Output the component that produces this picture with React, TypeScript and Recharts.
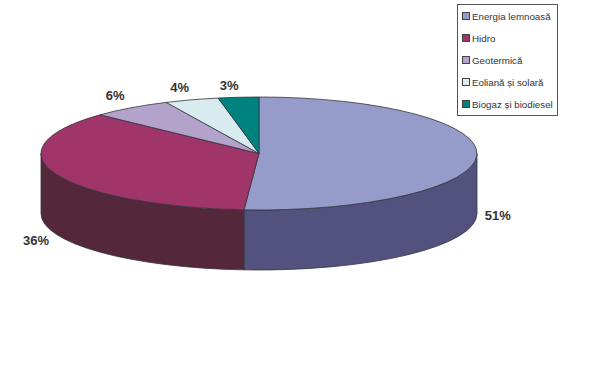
import React from 'react';
import { PieChart, Pie, Legend, Cell } from 'recharts';

const categories = ['Energia lemnoasă', 'Hidro', 'Geotermică', 'Eoliană și solară', 'Biogaz și biodiesel'];
const shares = [51.1, 35.9, 6, 4, 3];
const topColors = ['#959CC9', '#9F3568', '#B3A2C9', '#D8EBEE', '#00827F'];
const wallColors = ['#53527F', '#55273B', '#6B5C80', '#82979A', '#004F4D'];

const tableData = categories.map((name, i) => ({ name, value: shares[i] }));

// pie tilt: the circle from the library is flattened into an ellipse
const CX = 259;
const CY = 153.5;
const RADIUS = 218;
const SQUASH = 56.5 / 218;
const DEPTH = 60;
const EDGE = '#33333F';
const RAD = Math.PI / 180;

const px = (r: number, a: number) => CX + r * Math.cos(a * RAD);
const py = (r: number, a: number) => CY - r * SQUASH * Math.sin(a * RAD);

const Slice3D = (props: any) => {
  const { startAngle, endAngle, outerRadius: r, index } = props;
  const ry = r * SQUASH;
  const large = startAngle - endAngle > 180 ? 1 : 0;
  const top = `M${CX},${CY} L${px(r, startAngle)},${py(r, startAngle)} A${r},${ry} 0 ${large} 1 ${px(r, endAngle)},${py(r, endAngle)} Z`;

  // only the front half of the rim has a visible wall
  const s = Math.min(startAngle, 0);
  const e = Math.max(endAngle, -180);
  let wall = null;
  if (s > e) {
    const d =
      `M${px(r, s)},${py(r, s)} A${r},${ry} 0 0 1 ${px(r, e)},${py(r, e)} ` +
      `L${px(r, e)},${py(r, e) + DEPTH} A${r},${ry} 0 0 0 ${px(r, s)},${py(r, s) + DEPTH} Z`;
    wall = <path d={d} fill={wallColors[index]} stroke={EDGE} strokeWidth={0.8} />;
  }
  return (
    <g>
      {wall}
      <path d={top} fill={topColors[index]} stroke={EDGE} strokeWidth={0.8} />
    </g>
  );
};

const SliceLabel = (props: any) => {
  const { midAngle, value, outerRadius: r } = props;
  const c = Math.cos(midAngle * RAD);
  const back = Math.sin(midAngle * RAD) > 0;
  const x = px(r, midAngle) + (c > 0 ? 21 : -8 + 13 * c);
  const y = py(r, midAngle) + (back ? -12 : DEPTH + (c > 0 ? 0 : 6));
  return (
    <text
      x={x}
      y={y}
      textAnchor="middle"
      dominantBaseline="central"
      fontFamily="Liberation Sans"
      fontWeight="bold"
      fontSize={13}
      fill="#333333"
    >
      {Math.round(value)}%
    </text>
  );
};

const LegendBox = () => (
  <div
    style={{
      width: 101,
      height: 112,
      boxSizing: 'border-box',
      border: '1px solid #555',
      background: '#fff',
      fontFamily: 'Liberation Sans',
      fontSize: 9.75,
      color: '#333',
    }}
  >
    {categories.map((name, i) => (
      <div key={name} style={{ height: 22, display: 'flex', alignItems: 'center', paddingLeft: 4 }}>
        <span
          style={{
            width: 6,
            height: 6,
            marginRight: 2,
            border: '1px solid #444',
            background: topColors[i],
            flex: 'none',
          }}
        />
        <span style={{ whiteSpace: 'nowrap' }}>{name}</span>
      </div>
    ))}
  </div>
);

export default function App() {
  return (
    <div style={{ position: 'absolute', left: 0, top: 0, width: 600, height: 367, background: '#fff' }}>
      <PieChart width={600} height={367} margin={{ top: 0, right: 0, bottom: 0, left: 0 }}>
        <Pie
          data={tableData}
          dataKey="value"
          nameKey="name"
          cx={CX}
          cy={CY}
          innerRadius={0}
          outerRadius={RADIUS}
          startAngle={90}
          endAngle={-270}
          shape={Slice3D}
          label={SliceLabel}
          labelLine={false}
          isAnimationActive={false}
        >
          {tableData.map((d, i) => (
            <Cell key={d.name} fill={topColors[i]} />
          ))}
        </Pie>
        <Legend content={LegendBox} wrapperStyle={{ position: 'absolute', left: 457, top: 4, width: 101 }} />
      </PieChart>
    </div>
  );
}
